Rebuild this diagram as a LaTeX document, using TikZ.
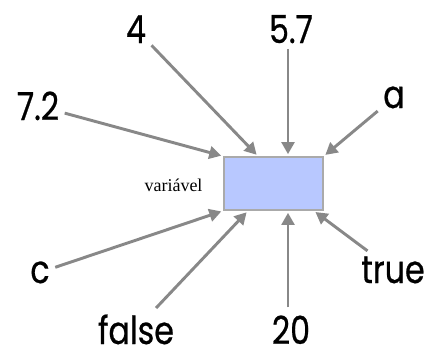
\documentclass[tikz,border=0pt]{standalone}
\usepackage{fontspec}
\setmainfont{Liberation Serif}
\newfontfamily\valfont[FakeStretch=0.82,FakeBold=0.6]{Poppins}
\usetikzlibrary{arrows.meta,calc}
\definecolor{boxfill}{HTML}{B8C8FF}
\definecolor{boxline}{HTML}{AAAAAA}
\definecolor{arrowgray}{HTML}{888888}
\begin{document}
\begin{tikzpicture}[x=0.75pt,y=-0.75pt,
  val/.style={font=\valfont\fontsize{29}{31}\selectfont, inner sep=4pt, anchor=base},
  flat/.style={text depth=0pt, inner sep=1pt},
  link/.style={draw=arrowgray, line width=2.2pt, -{Triangle[length=9pt,width=9.5pt]}, shorten >=1.5pt}]
\useasboundingbox (0,0) rectangle (427,358);
\node[draw=boxline, line width=1.2pt, fill=boxfill, minimum width=74.25pt, minimum height=39.75pt, inner sep=0pt] (box) at (273.5,183.5) {};
\node[font=\fontsize{13.5}{15}\selectfont, anchor=base] (lbl) at (173.5,191) {variável};
\node[val] (n4) at (136,43) {4};
\node[val] (n57) at (291,43) {5.7};
\node[val] (n72) at (38,120) {7.2};
\node[val] (na) at (394,108) {a};
\node[val] (nc) at (40,283) {c};
\node[val,flat] (nfalse) at (136,344) {false};
\node[val,flat] (n20) at (291,344) {20};
\node[val] (ntrue) at (393,283) {true};
\draw[link] (n72) -- (box.north west);
\draw[link] (n4) -- ($(box.north)+(-15.5,0)$);
\draw[link] (n57.south -| 288,0) -- ($(box.north)+(14.5,0)$);
\draw[link] (na) -- (box.north east);
\draw[link] (nc) -- (box.south west);
\draw[link, shorten <=5pt] (nfalse) -- ($(box.south)+(-25.5,0)$);
\draw[link, shorten <=5pt] (n20.north -| 288,0) -- ($(box.south)+(14.5,0)$);
\draw[link] (ntrue) -- ($(box.south east)+(-10,0)$);
\end{tikzpicture}
\end{document}
